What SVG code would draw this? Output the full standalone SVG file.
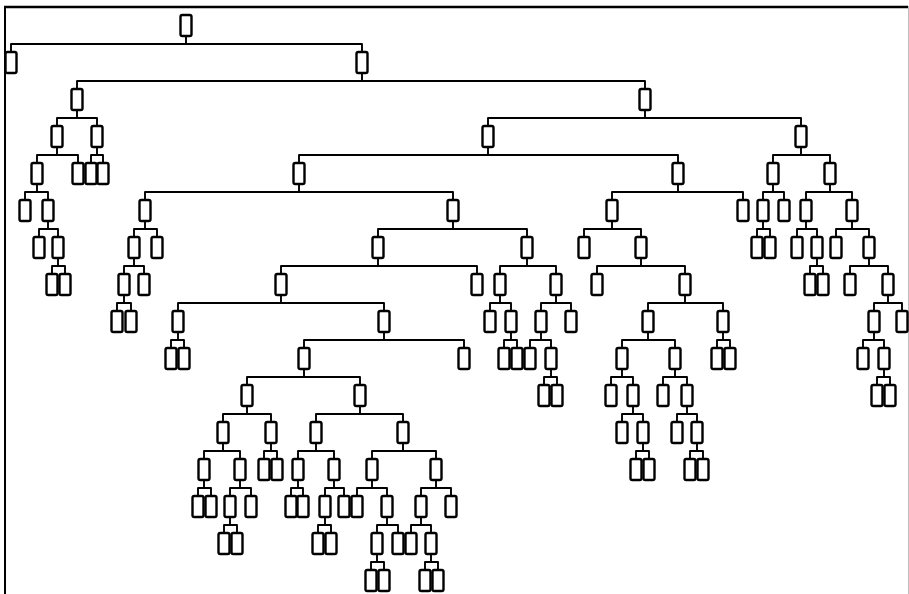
<svg xmlns="http://www.w3.org/2000/svg" width="909" height="594" viewBox="0 0 909 594">
<style>
  .n { fill: #fff; stroke: #000; stroke-width: 2.4; }
  .e { fill: none; stroke: #000; stroke-width: 1.9; stroke-linejoin: round; }
  .frame { fill: none; stroke: #000; }
</style>
<defs>
  <!-- one tree node: 11 x 21 rounded box, origin at its top centre -->
  <rect id="box" class="n" x="-5.5" y="1" width="11" height="21" rx="1.8"/>
</defs>
<rect width="909" height="594" fill="#fff"/>
<!-- frame -->
<path class="frame" d="M4,7H908" stroke-width="2.6"/>
<path class="frame" d="M5,6V594" stroke-width="2"/>
<path d="M908.5,6V594" stroke="#bdbdbd" stroke-width="1"/>

<!-- connectors: stub under the parent, a bar, and drops to both children -->
<g id="edges" class="e">
  <path d="M186,36V44 M11,51V44H362V51"/>
  <path d="M362,73V81 M77,88V81H645V88"/>
  <path d="M77,110V118 M57,125V118H97V125"/>
  <path d="M645,110V118 M488,125V118H801V125"/>
  <path d="M57,147V155 M37,162V155H78V162"/>
  <path d="M97,147V155 M91,162V155H103V162"/>
  <path d="M488,147V155 M299,162V155H678V162"/>
  <path d="M801,147V155 M773,162V155H830V162"/>
  <path d="M37,184V192 M25,199V192H48V199"/>
  <path d="M299,184V192 M145,199V192H453V199"/>
  <path d="M678,184V192 M612,199V192H743V199"/>
  <path d="M773,184V192 M763,199V192H784V199"/>
  <path d="M830,184V192 M806,199V192H852V199"/>
  <path d="M48,221V229 M39,236V229H58V236"/>
  <path d="M145,221V229 M134,236V229H157V236"/>
  <path d="M453,221V229 M378,236V229H527V236"/>
  <path d="M612,221V229 M584,236V229H641V236"/>
  <path d="M763,221V229 M757,236V229H770V236"/>
  <path d="M806,221V229 M797,236V229H817V236"/>
  <path d="M852,221V229 M836,236V229H869V236"/>
  <path d="M58,258V266 M52,273V266H65V273"/>
  <path d="M134,258V266 M124,273V266H144V273"/>
  <path d="M378,258V266 M281,273V266H477V273"/>
  <path d="M527,258V266 M500,273V266H556V273"/>
  <path d="M641,258V266 M597,273V266H685V273"/>
  <path d="M817,258V266 M810,273V266H823V273"/>
  <path d="M869,258V266 M850,273V266H888V273"/>
  <path d="M124,295V303 M117,310V303H131V310"/>
  <path d="M281,295V303 M178,310V303H384V310"/>
  <path d="M500,295V303 M490,310V303H511V310"/>
  <path d="M556,295V303 M541,310V303H571V310"/>
  <path d="M685,295V303 M648,310V303H723V310"/>
  <path d="M888,295V303 M874,310V303H902V310"/>
  <path d="M178,332V340 M171,347V340H184V347"/>
  <path d="M384,332V340 M304,347V340H464V347"/>
  <path d="M511,332V340 M504,347V340H517V347"/>
  <path d="M541,332V340 M530,347V340H551V347"/>
  <path d="M648,332V340 M622,347V340H675V347"/>
  <path d="M723,332V340 M717,347V340H730V347"/>
  <path d="M874,332V340 M863,347V340H884V347"/>
  <path d="M304,369V377 M247,384V377H360V384"/>
  <path d="M551,369V377 M544,384V377H557V384"/>
  <path d="M622,369V377 M611,384V377H633V384"/>
  <path d="M675,369V377 M663,384V377H687V384"/>
  <path d="M884,369V377 M877,384V377H890V384"/>
  <path d="M247,406V414 M223,421V414H271V421"/>
  <path d="M360,406V414 M316,421V414H403V421"/>
  <path d="M633,406V414 M622,421V414H643V421"/>
  <path d="M687,406V414 M677,421V414H697V421"/>
  <path d="M223,443V451 M204,458V451H240V458"/>
  <path d="M271,443V451 M264,458V451H277V458"/>
  <path d="M316,443V451 M298,458V451H334V458"/>
  <path d="M403,443V451 M372,458V451H436V458"/>
  <path d="M643,443V451 M636,458V451H649V458"/>
  <path d="M697,443V451 M690,458V451H703V458"/>
  <path d="M204,480V488 M198,495V488H211V495"/>
  <path d="M240,480V488 M230,495V488H251V495"/>
  <path d="M298,480V488 M291,495V488H303V495"/>
  <path d="M334,480V488 M325,495V488H344V495"/>
  <path d="M372,480V488 M357,495V488H387V495"/>
  <path d="M436,480V488 M421,495V488H451V495"/>
  <path d="M230,517V525 M224,532V525H237V532"/>
  <path d="M325,517V525 M318,532V525H331V532"/>
  <path d="M387,517V525 M377,532V525H398V532"/>
  <path d="M421,517V525 M411,532V525H431V532"/>
  <path d="M377,554V562 M371,569V562H384V569"/>
  <path d="M431,554V562 M425,569V562H438V569"/>
</g>

<!-- nodes, one group each, placed by top-centre -->
<g id="nodes">
  <g id="n0-186"><use href="#box" x="186" y="14"/></g>

  <g id="n1-11"><use href="#box" x="11" y="51"/></g>
  <g id="n1-362"><use href="#box" x="362" y="51"/></g>

  <g id="n2-77"><use href="#box" x="77" y="88"/></g>
  <g id="n2-645"><use href="#box" x="645" y="88"/></g>

  <g id="n3-57"><use href="#box" x="57" y="125"/></g>
  <g id="n3-97"><use href="#box" x="97" y="125"/></g>
  <g id="n3-488"><use href="#box" x="488" y="125"/></g>
  <g id="n3-801"><use href="#box" x="801" y="125"/></g>

  <g id="n4-37"><use href="#box" x="37" y="162"/></g>
  <g id="n4-78"><use href="#box" x="78" y="162"/></g>
  <g id="n4-91"><use href="#box" x="91" y="162"/></g>
  <g id="n4-103"><use href="#box" x="103" y="162"/></g>
  <g id="n4-299"><use href="#box" x="299" y="162"/></g>
  <g id="n4-678"><use href="#box" x="678" y="162"/></g>
  <g id="n4-773"><use href="#box" x="773" y="162"/></g>
  <g id="n4-830"><use href="#box" x="830" y="162"/></g>

  <g id="n5-25"><use href="#box" x="25" y="199"/></g>
  <g id="n5-48"><use href="#box" x="48" y="199"/></g>
  <g id="n5-145"><use href="#box" x="145" y="199"/></g>
  <g id="n5-453"><use href="#box" x="453" y="199"/></g>
  <g id="n5-612"><use href="#box" x="612" y="199"/></g>
  <g id="n5-743"><use href="#box" x="743" y="199"/></g>
  <g id="n5-763"><use href="#box" x="763" y="199"/></g>
  <g id="n5-784"><use href="#box" x="784" y="199"/></g>
  <g id="n5-806"><use href="#box" x="806" y="199"/></g>
  <g id="n5-852"><use href="#box" x="852" y="199"/></g>

  <g id="n6-39"><use href="#box" x="39" y="236"/></g>
  <g id="n6-58"><use href="#box" x="58" y="236"/></g>
  <g id="n6-134"><use href="#box" x="134" y="236"/></g>
  <g id="n6-157"><use href="#box" x="157" y="236"/></g>
  <g id="n6-378"><use href="#box" x="378" y="236"/></g>
  <g id="n6-527"><use href="#box" x="527" y="236"/></g>
  <g id="n6-584"><use href="#box" x="584" y="236"/></g>
  <g id="n6-641"><use href="#box" x="641" y="236"/></g>
  <g id="n6-757"><use href="#box" x="757" y="236"/></g>
  <g id="n6-770"><use href="#box" x="770" y="236"/></g>
  <g id="n6-797"><use href="#box" x="797" y="236"/></g>
  <g id="n6-817"><use href="#box" x="817" y="236"/></g>
  <g id="n6-836"><use href="#box" x="836" y="236"/></g>
  <g id="n6-869"><use href="#box" x="869" y="236"/></g>

  <g id="n7-52"><use href="#box" x="52" y="273"/></g>
  <g id="n7-65"><use href="#box" x="65" y="273"/></g>
  <g id="n7-124"><use href="#box" x="124" y="273"/></g>
  <g id="n7-144"><use href="#box" x="144" y="273"/></g>
  <g id="n7-281"><use href="#box" x="281" y="273"/></g>
  <g id="n7-477"><use href="#box" x="477" y="273"/></g>
  <g id="n7-500"><use href="#box" x="500" y="273"/></g>
  <g id="n7-556"><use href="#box" x="556" y="273"/></g>
  <g id="n7-597"><use href="#box" x="597" y="273"/></g>
  <g id="n7-685"><use href="#box" x="685" y="273"/></g>
  <g id="n7-810"><use href="#box" x="810" y="273"/></g>
  <g id="n7-823"><use href="#box" x="823" y="273"/></g>
  <g id="n7-850"><use href="#box" x="850" y="273"/></g>
  <g id="n7-888"><use href="#box" x="888" y="273"/></g>

  <g id="n8-117"><use href="#box" x="117" y="310"/></g>
  <g id="n8-131"><use href="#box" x="131" y="310"/></g>
  <g id="n8-178"><use href="#box" x="178" y="310"/></g>
  <g id="n8-384"><use href="#box" x="384" y="310"/></g>
  <g id="n8-490"><use href="#box" x="490" y="310"/></g>
  <g id="n8-511"><use href="#box" x="511" y="310"/></g>
  <g id="n8-541"><use href="#box" x="541" y="310"/></g>
  <g id="n8-571"><use href="#box" x="571" y="310"/></g>
  <g id="n8-648"><use href="#box" x="648" y="310"/></g>
  <g id="n8-723"><use href="#box" x="723" y="310"/></g>
  <g id="n8-874"><use href="#box" x="874" y="310"/></g>
  <g id="n8-902"><use href="#box" x="902" y="310"/></g>

  <g id="n9-171"><use href="#box" x="171" y="347"/></g>
  <g id="n9-184"><use href="#box" x="184" y="347"/></g>
  <g id="n9-304"><use href="#box" x="304" y="347"/></g>
  <g id="n9-464"><use href="#box" x="464" y="347"/></g>
  <g id="n9-504"><use href="#box" x="504" y="347"/></g>
  <g id="n9-517"><use href="#box" x="517" y="347"/></g>
  <g id="n9-530"><use href="#box" x="530" y="347"/></g>
  <g id="n9-551"><use href="#box" x="551" y="347"/></g>
  <g id="n9-622"><use href="#box" x="622" y="347"/></g>
  <g id="n9-675"><use href="#box" x="675" y="347"/></g>
  <g id="n9-717"><use href="#box" x="717" y="347"/></g>
  <g id="n9-730"><use href="#box" x="730" y="347"/></g>
  <g id="n9-863"><use href="#box" x="863" y="347"/></g>
  <g id="n9-884"><use href="#box" x="884" y="347"/></g>

  <g id="n10-247"><use href="#box" x="247" y="384"/></g>
  <g id="n10-360"><use href="#box" x="360" y="384"/></g>
  <g id="n10-544"><use href="#box" x="544" y="384"/></g>
  <g id="n10-557"><use href="#box" x="557" y="384"/></g>
  <g id="n10-611"><use href="#box" x="611" y="384"/></g>
  <g id="n10-633"><use href="#box" x="633" y="384"/></g>
  <g id="n10-663"><use href="#box" x="663" y="384"/></g>
  <g id="n10-687"><use href="#box" x="687" y="384"/></g>
  <g id="n10-877"><use href="#box" x="877" y="384"/></g>
  <g id="n10-890"><use href="#box" x="890" y="384"/></g>

  <g id="n11-223"><use href="#box" x="223" y="421"/></g>
  <g id="n11-271"><use href="#box" x="271" y="421"/></g>
  <g id="n11-316"><use href="#box" x="316" y="421"/></g>
  <g id="n11-403"><use href="#box" x="403" y="421"/></g>
  <g id="n11-622"><use href="#box" x="622" y="421"/></g>
  <g id="n11-643"><use href="#box" x="643" y="421"/></g>
  <g id="n11-677"><use href="#box" x="677" y="421"/></g>
  <g id="n11-697"><use href="#box" x="697" y="421"/></g>

  <g id="n12-204"><use href="#box" x="204" y="458"/></g>
  <g id="n12-240"><use href="#box" x="240" y="458"/></g>
  <g id="n12-264"><use href="#box" x="264" y="458"/></g>
  <g id="n12-277"><use href="#box" x="277" y="458"/></g>
  <g id="n12-298"><use href="#box" x="298" y="458"/></g>
  <g id="n12-334"><use href="#box" x="334" y="458"/></g>
  <g id="n12-372"><use href="#box" x="372" y="458"/></g>
  <g id="n12-436"><use href="#box" x="436" y="458"/></g>
  <g id="n12-636"><use href="#box" x="636" y="458"/></g>
  <g id="n12-649"><use href="#box" x="649" y="458"/></g>
  <g id="n12-690"><use href="#box" x="690" y="458"/></g>
  <g id="n12-703"><use href="#box" x="703" y="458"/></g>

  <g id="n13-198"><use href="#box" x="198" y="495"/></g>
  <g id="n13-211"><use href="#box" x="211" y="495"/></g>
  <g id="n13-230"><use href="#box" x="230" y="495"/></g>
  <g id="n13-251"><use href="#box" x="251" y="495"/></g>
  <g id="n13-291"><use href="#box" x="291" y="495"/></g>
  <g id="n13-303"><use href="#box" x="303" y="495"/></g>
  <g id="n13-325"><use href="#box" x="325" y="495"/></g>
  <g id="n13-344"><use href="#box" x="344" y="495"/></g>
  <g id="n13-357"><use href="#box" x="357" y="495"/></g>
  <g id="n13-387"><use href="#box" x="387" y="495"/></g>
  <g id="n13-421"><use href="#box" x="421" y="495"/></g>
  <g id="n13-451"><use href="#box" x="451" y="495"/></g>

  <g id="n14-224"><use href="#box" x="224" y="532"/></g>
  <g id="n14-237"><use href="#box" x="237" y="532"/></g>
  <g id="n14-318"><use href="#box" x="318" y="532"/></g>
  <g id="n14-331"><use href="#box" x="331" y="532"/></g>
  <g id="n14-377"><use href="#box" x="377" y="532"/></g>
  <g id="n14-398"><use href="#box" x="398" y="532"/></g>
  <g id="n14-411"><use href="#box" x="411" y="532"/></g>
  <g id="n14-431"><use href="#box" x="431" y="532"/></g>

  <g id="n15-371"><use href="#box" x="371" y="569"/></g>
  <g id="n15-384"><use href="#box" x="384" y="569"/></g>
  <g id="n15-425"><use href="#box" x="425" y="569"/></g>
  <g id="n15-438"><use href="#box" x="438" y="569"/></g>
</g>
</svg>
